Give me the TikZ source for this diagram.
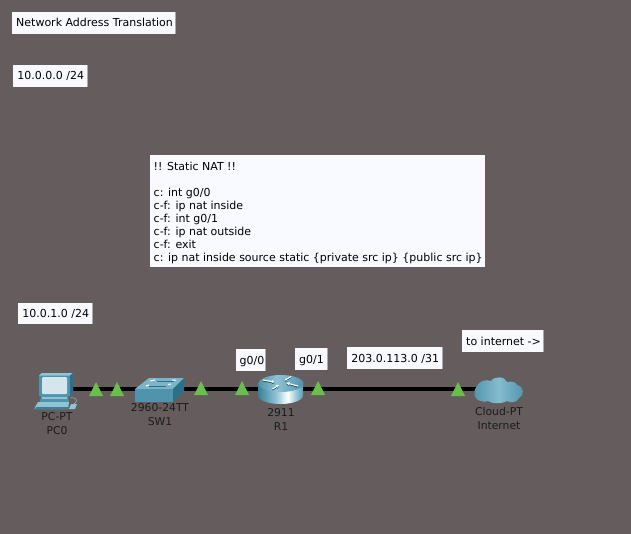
\documentclass[tikz,border=0pt]{standalone}
\usepackage{fontspec}
\setmainfont{DejaVu Sans}
\usetikzlibrary{arrows.meta}
\definecolor{bgc}{HTML}{655D5D}
\definecolor{tri}{HTML}{6ABF4B}
\definecolor{labelc}{HTML}{1C1C1C}
\definecolor{paper}{HTML}{F8FAFF}
\definecolor{edgec}{HTML}{A9A9B0}
\definecolor{teal1}{HTML}{4F93AC}
\definecolor{teal2}{HTML}{8FC3D6}
\definecolor{teal3}{HTML}{3A8097}
\definecolor{teal4}{HTML}{2B6F88}
\definecolor{screenc}{HTML}{D5E5EC}
\definecolor{deep}{HTML}{1F5063}
\pgfdeclarehorizontalshading{routerside}{100bp}{
  color(0bp)=(teal3); color(25bp)=(teal3); color(45bp)=(teal2); color(58bp)=(white);
  color(68bp)=(teal2); color(80bp)=(teal3); color(100bp)=(teal3)}
\pgfdeclarehorizontalshading{routertop}{100bp}{
  color(0bp)=(teal1); color(25bp)=(teal1); color(45bp)=(teal2); color(75bp)=(teal1); color(100bp)=(teal1)}
\tikzset{
  x=1pt,y=-1pt,
  devlabel/.style={text=labelc,align=center,font=\fontsize{10.8}{14}\selectfont,inner sep=0pt},
  devanchor/.style={inner sep=0pt,minimum size=1pt,draw=none},
  linkline/.style={line width=3.3pt,black},
  notetext/.style={inner sep=0pt,text=black,font=\fontsize{11}{13}\selectfont},
  routerarrow/.style={white,line width=1.1pt,-{Stealth[length=3pt,width=3.5pt]}},
  routershadow/.style={deep,line width=1pt,-{Stealth[length=3pt,width=3.5pt]}},
}
\newcommand{\boxnote}[7]{%
  \fill[paper] (#2,#3) rectangle (#4,#5);
  \fill[edgec] (#4-1,#3) rectangle (#4,#5);
  \node[anchor=base west,notetext] (#1) at (#6,{(#3+#5)/2+4}) {#7};
}
\newcommand{\triport}[3]{%
  \fill[tri] (#2-7,#3+14) -- (#2,#3) -- (#2+7,#3+14) -- cycle;
  \node[devanchor] (#1) at (#2,#3+9) {};
}
\begin{document}
\begin{tikzpicture}
\useasboundingbox (0,0) rectangle (631,534);
\fill[bgc] (0,0) rectangle (631,534);

% notes
\boxnote{title}{12}{12}{176}{34}{16}{Network Address Translation}
\boxnote{netA}{13}{65}{87.5}{87}{17.2}{10.0.0.0 /24}
\boxnote{netB}{18}{303}{92.5}{324}{22.2}{10.0.1.0 /24}
\boxnote{gA}{236}{349}{266}{371}{239.5}{g0/0}
\boxnote{gB}{295}{348}{328}{370}{299}{g0/1}
\boxnote{wan}{347}{347}{442.5}{369}{351.2}{203.0.113.0 /31}
\boxnote{inet}{462}{330}{544}{352}{466}{to internet ->}

\fill[paper] (150,155) rectangle (485,267);
\node[anchor=north west,align=left,notetext] (cfg) at (153.5,162) {!! Static NAT !!\\[0pt]
\mbox{}\\[0pt]
c: int g0/0\\
c-f: ip nat inside\\
c-f: int g0/1\\
c-f: ip nat outside\\
c-f: exit\\
c: ip nat inside source static \{private src ip\} \{public src ip\}};

% device anchors
\node[devanchor] (pc) at (57,389) {};
\node[devanchor] (sw) at (160,389) {};
\node[devanchor] (r1) at (281,389) {};
\node[devanchor] (cloud) at (498,389) {};

% links
\draw[linkline] (pc) -- (sw);
\draw[linkline] (sw) -- (r1);
\draw[linkline] (r1) -- (cloud);

% port triangles
\triport{pa}{96}{382}
\triport{pb}{117}{382}
\triport{pc2}{201}{381}
\triport{pd}{242}{381}
\triport{pe}{318}{381}
\triport{pf}{458}{382}

% PC icon
\fill[teal1] (39,375.5) -- (42,373) -- (73,373) -- (73,393) -- (70,396) -- (39,396) -- cycle;
\fill[teal2] (39,375.5) -- (42,373) -- (73,373) -- (70,375.5) -- cycle;
\fill[teal4] (70,375.5) -- (73,373) -- (73,393) -- (70,396) -- cycle;
\fill[screenc,rounded corners=1pt] (42,377) rectangle (67,394);
\fill[teal1] (41,396) -- (68,396) -- (69,402) -- (40,402) -- cycle;
\fill[teal2] (42,397) rectangle (67,399);
\fill[teal2] (38,402) -- (69,402) -- (68,409) -- (34,409) -- cycle;
\fill[teal3] (36.5,407) -- (68.5,407) -- (68,409) -- (34,409) -- cycle;
\fill[teal2] (71,404) -- (77,404) -- (75,409) -- (69,409) -- cycle;
\draw[teal2,line width=.5pt] (70,398) .. controls (76,397) and (79,400) .. (74,404);

% switch icon
\fill[teal2!70!teal1] (135,389) -- (149,378) -- (184,378) -- (173,389) -- cycle;
\fill[teal1] (135,389) rectangle (173,402);
\fill[teal4] (173,389) -- (184,378) -- (184,391) -- (173,402) -- cycle;
\draw[teal4,line width=.6pt] (149,386.5) -- (166,386.5) (157,381) -- (174,381);
\draw[white,line width=1pt] (150,381) -- (155,380) (172,380) -- (176,380);
\draw[white,line width=1pt] (146,386) -- (149,385) (168,384.5) -- (171,384);

% router icon
\shade[shading=routerside] (258,383.5) -- (258,395.5) arc[start angle=180,end angle=0,x radius=22.5,y radius=8.5] -- (303,383.5) -- cycle;
\shade[shading=routertop] (281,383.5) ellipse[x radius=22.5,y radius=8.5];
\draw[routershadow] (263,381) -- (274.5,383);
\draw[routershadow] (298,387) -- (286.5,384);
\draw[routershadow] (291,377.5) -- (284.5,381.5);
\draw[routershadow] (272.5,390) -- (279,386);
\draw[routerarrow] (263,380) -- (274.5,382);
\draw[routerarrow] (298,386) -- (286.5,383);
\draw[routerarrow] (291,376.5) -- (284.5,380.5);
\draw[routerarrow] (272.5,389) -- (279,385);

% cloud icon
\shade[left color=teal1,right color=teal1,middle color=teal2!85!teal1]
  (481,401) .. controls (474,400) and (472,392) .. (477,386)
  .. controls (479,381) and (486,379) .. (491,381)
  .. controls (494,376) and (505,376) .. (507,382)
  .. controls (512,381) and (516,382) .. (517,385)
  .. controls (524,386) and (525,396) .. (519,398)
  .. controls (517,403) and (510,403) .. (507,401)
  .. controls (502,404) and (492,404) .. (488,401)
  .. controls (486,402) and (483,402) .. (481,401) -- cycle;

% device labels
\node[devlabel] (lpc) at (57,424) {PC-PT\\PC0};
\node[devlabel] (lsw) at (160,415) {2960-24TT\\SW1};
\node[devlabel] (lr1) at (281,419) {2911\\R1};
\node[devlabel] (lcl) at (499,418) {Cloud-PT\\Internet};
\end{tikzpicture}
\end{document}
